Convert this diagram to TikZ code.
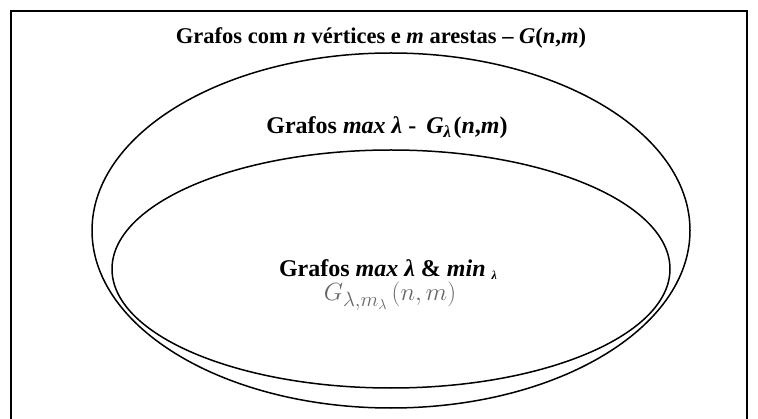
\documentclass[tikz,border=0pt]{standalone}
\usepackage{fontspec}
\setmainfont{Liberation Serif}
\DeclareMathSizes{27}{27}{20}{15}
\begin{document}
\begin{tikzpicture}[x=1pt,y=1pt,
  frame/.style={line width=2pt,black},
  ring/.style={line width=1.5pt,black},
  lbl/.style={font=\fontsize{22.5}{26}\selectfont\bfseries, inner sep=0pt},
  lblb/.style={font=\fontsize{24}{28}\selectfont\bfseries, inner sep=0pt}]
\useasboundingbox (0,0) rectangle (758,418);
\draw[frame] (11,-2) -- (11,407) -- (747,407) -- (747,-2);
\draw[ring] (391,187.5) ellipse [x radius=299, y radius=177.5];
\draw[ring] (391,149) ellipse [x radius=279, y radius=119];
\node[lbl] (t1) at (381,380) {Grafos com \textit{n} vértices e \textit{m} arestas – \textit{G}(\textit{n},\textit{m})};
\node[lblb] (t2) at (387,290) {Grafos \textit{max λ} -\hspace{10pt}\textit{G\textsubscript{λ}}\hspace{2pt}(\textit{n},\textit{m})};
\node[lblb] (t3) at (388,148) {Grafos \textit{max λ} \& \textit{min} {\fontsize{12}{14}\selectfont\raisebox{-3pt}{\textit{λ}}}};
\node[inner sep=0pt, text=black!60, font=\fontsize{27}{30}\selectfont] (t4) at (390,122) {$G_{\lambda,m_\lambda}\,(n,m)$};
\end{tikzpicture}
\end{document}
